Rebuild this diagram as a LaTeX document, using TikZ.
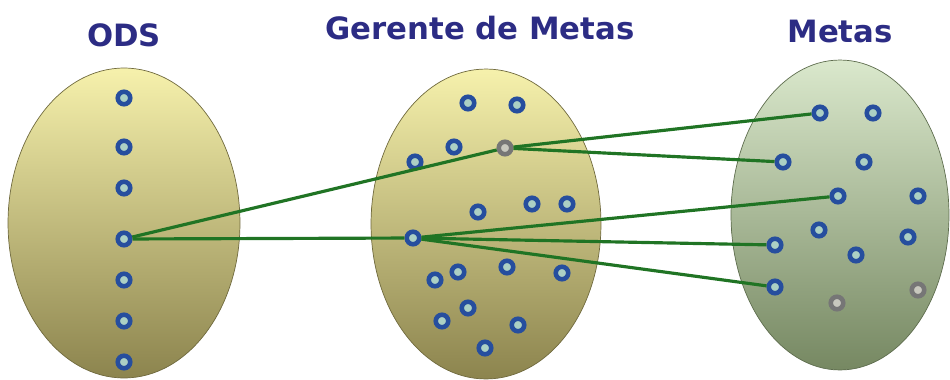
\documentclass[tikz,border=0pt]{standalone}
\usepackage{fontspec}
\setmainfont{DejaVu Sans}
\usepackage{xcolor}
\usepackage{tikz}
\usetikzlibrary{positioning,shapes.geometric}
\definecolor{ttlblue}{RGB}{44,44,132}
\definecolor{ringblue}{RGB}{38,78,158}
\definecolor{ringfill}{RGB}{172,208,196}
\definecolor{ringgray}{RGB}{118,118,118}
\definecolor{grayfill}{RGB}{200,200,190}
\definecolor{linkgreen}{RGB}{32,116,36}
\definecolor{ylwtop}{RGB}{246,241,172}
\definecolor{ylwmid}{RGB}{228,219,144}
\definecolor{ylwbot}{RGB}{140,132,78}
\definecolor{grntop}{RGB}{218,232,204}
\definecolor{grnmid}{RGB}{188,206,170}
\definecolor{grnbot}{RGB}{118,136,98}
\tikzset{
  ttl/.style={font=\fontsize{17.5}{20}\selectfont\bfseries,text=ttlblue},
  setY/.style={ellipse,draw=ylwbot!80!black,thin,top color=ylwtop,middle color=ylwmid,bottom color=ylwbot,inner sep=0pt},
  setG/.style={ellipse,draw=grnbot!80!black,thin,top color=grntop,middle color=grnmid,bottom color=grnbot,inner sep=0pt},
  dot/.style={circle,draw=ringblue,fill=ringfill,line width=2.6pt,minimum size=0.25cm,inner sep=0pt},
  gdot/.style={dot,draw=ringgray,fill=grayfill},
  lnk/.style={draw=linkgreen,line width=1.8pt},
}
\begin{document}
\begin{tikzpicture}[x=0.02cm,y=-0.02cm]
  \useasboundingbox (0,0) rectangle (950,379);
  % sets
  \node[setY,minimum width=4.64cm,minimum height=6.2cm] (sO) at (124,223) {};
  \node[setY,minimum width=4.6cm,minimum height=6.2cm] (sG) at (486,224) {};
  \node[setG,minimum width=4.36cm,minimum height=6.2cm] (sM) at (840,215) {};
  % titles
  \node[ttl] (tO) at (124,35) {ODS};
  \node[ttl] (tG) at (480,28) {Gerente de Metas};
  \node[ttl] (tM) at (840,32) {Metas};
  % ODS
  \foreach \y [count=\i] in {98,147,188,239,280,321,362}
    \node[dot] (o\i) at (124,\y) {};
  % Gerente de Metas
  \foreach \x/\y [count=\i] in {468/103,517/105,454/147,415/162,478/212,532/204,567/204,
      435/280,458/272,507/267,562/273,468/308,442/321,518/325,485/348}
    \node[dot] (g\i) at (\x,\y) {};
  \node[gdot] (gx) at (505,148) {};
  \node[dot] (gs) at (413,238) {};
  % Metas
  \foreach \x/\y [count=\i] in {820/113,873/113,783/162,864/162,838/196,918/196,
      819/230,908/237,775/245,856/255,775/287}
    \node[dot] (m\i) at (\x,\y) {};
  \node[gdot] (mx1) at (837,303) {};
  \node[gdot] (mx2) at (918,290) {};
  % links
  \draw[lnk] (o4) -- (gx);
  \draw[lnk] (o4) -- (gs);
  \draw[lnk] (gx) -- (m1);
  \draw[lnk] (gx) -- (m3);
  \draw[lnk] (gs) -- (m5);
  \draw[lnk] (gs) -- (m9);
  \draw[lnk] (gs) -- (m11);
\end{tikzpicture}
\end{document}
